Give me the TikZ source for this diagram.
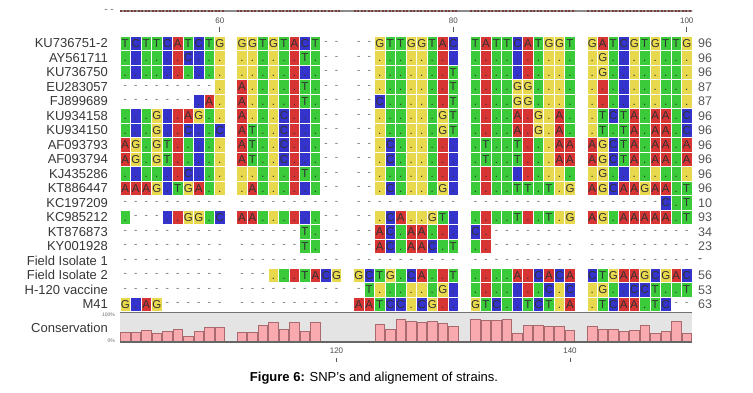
\documentclass[tikz,border=0pt]{standalone}
\usepackage{fontspec}
\setmainfont{Liberation Sans}

\definecolor{baseA}{RGB}{215,52,52}
\definecolor{baseC}{RGB}{52,52,205}
\definecolor{baseG}{RGB}{232,216,78}
\definecolor{baseT}{RGB}{58,202,58}
\definecolor{namegray}{RGB}{55,55,55}
\definecolor{scoregray}{RGB}{85,85,85}
\definecolor{panelgray}{RGB}{228,228,228}
\definecolor{barpink}{RGB}{248,170,174}
\definecolor{barline}{RGB}{170,105,110}
\definecolor{rulerred}{RGB}{125,60,60}

\tikzset{
  cell/.style={fill=#1, draw=white, line width=1pt, minimum width=10.5pt,
    minimum height=14.5pt, inner sep=0pt, text height=8.2pt, text depth=0pt,
    font=\fontsize{11.5}{11.5}\selectfont, text=black!80},
  gapmark/.style={inner sep=0pt, text=black!60, font=\fontsize{10}{10}\selectfont},
  seqname/.style={anchor=east, inner sep=0pt, text=namegray, font=\fontsize{13}{14}\selectfont},
  seqscore/.style={anchor=west, inner sep=0pt, text=scoregray, font=\fontsize{12.5}{14}\selectfont},
  rulerlabel/.style={inner sep=0pt, text=black!70, font=\fontsize{8}{8}\selectfont},
  tick/.style={draw=black!65, line width=0.8pt},
  consbar/.style={fill=barpink, draw=barline, line width=0.8pt},
}

% one alignment cell: upper case = base shown, lower case = same as first row
\newcount\seqcolnum
\newcommand\basebox[2]{\node[cell=#1] (s\rowid-\colid) at (\cx,\cy) {#2};}
\newcommand\gapcell{\node[gapmark] (s\rowid-\colid) at (\cx,\cy) {-};}
\makeatletter
\@namedef{cellA}{\basebox{baseA}{A}}
\@namedef{cellC}{\basebox{baseC}{C}}
\@namedef{cellG}{\basebox{baseG}{G}}
\@namedef{cellT}{\basebox{baseT}{T}}
\@namedef{cella}{\basebox{baseA}{.}}
\@namedef{cellc}{\basebox{baseC}{.}}
\@namedef{cellg}{\basebox{baseG}{.}}
\@namedef{cellt}{\basebox{baseT}{.}}
\@namedef{cell-}{\gapcell}
\newcommand\seqrow[4]{%
  \def\rowid{#1}%
  \pgfmathsetmacro\cy{43.3+(#1-1)*14.5}%
  \node[seqname] (name#1) at (108,\cy) {#2};
  \node[seqscore] (score#1) at (698,\cy) {#3};
  \seqcolnum=0
  \@tfor\base:=#4\do{%
    \edef\colid{\the\seqcolnum}%
    \pgfmathtruncatemacro\blk{\colid/10}%
    \pgfmathsetmacro\cx{125.25+\blk*116.75+(\colid-10*\blk)*10.5}%
    \csname cell\base\endcsname
    \advance\seqcolnum by 1\relax}}
\makeatother

\begin{document}
\begin{tikzpicture}[x=1pt, y=-1pt]
\useasboundingbox (0,0) rectangle (753,392);

% ruler
\node[gapmark] (rulerleft) at (109,10.5) {- -};
\draw[black!45, line width=2.5pt] (120,11) -- (692,11);
\foreach \b in {0,...,4}
  \draw[rulerred, line width=2.5pt, dash pattern=on 2.2pt off 1.3pt]
    (120+\b*116.75,11) -- (225+\b*116.75,11);
\node[rulerlabel] (top60) at (219.75,20.5) {60};
\node[rulerlabel] (top80) at (453.25,20.5) {80};
\node[rulerlabel] (top100) at (686.75,20.5) {100};
\foreach \t in {top60,top80,top100}
  \draw[tick] ([yshift=-3pt]\t.south) -- ++(0,5.5);

% sequences
\seqrow{1}{KU736751-2}{96}{TCTTCATCTGGGTGTACT----GTTGGTACTATTCATGGTGATCGTGTTG}
\seqrow{2}{AY561711}{96}{tcttcaCctgggtgtaTt----gttggtactattcatggtgGtcgtgttg}
\seqrow{3}{KU736750}{96}{tcttcatctgggtgtact----gttggtaTtattcatggtgGtcgtgttg}
\seqrow{4}{EU283057}{87}{---------gAgtgtaTt----gttggtaTtattGGtggtgatcgtgttg}
\seqrow{5}{FJ899689}{87}{-------cAgAgtgtaTt----CttggtaTtattGGtggtgatcgtgttg}
\seqrow{6}{KU934158}{96}{tctGcaAGtgAgtgCact----gttggtGTtattAaGgAtgTCTAtAAtC}
\seqrow{7}{KU934150}{96}{tctGcaCctCATtgCact----gttggtGTtattAaGgAtgTtTAtAAtC}
\seqrow{8}{AF093793}{96}{AGtGTatctgATtgCact----gCtggtactTttTatgAAAGCTAtAAtA}
\seqrow{9}{AF093794}{96}{AGtGTatctgATtgCact----gCtggtactTttTatgAAAGCTAtAAtA}
\seqrow{10}{KJ435286}{96}{tcttcaCctgggtgtaTt----gttggtactattcatggtgGtcgtgttg}
\seqrow{11}{KT886447}{96}{AAAGcTGAtggAtgtact----gCtggtGctattTTtTgGAGCAAGAAtT}
\seqrow{12}{KC197209}{10}{-----------------------------------------------CtT}
\seqrow{13}{KC985212}{93}{t---caGGtCAAtgtact----gCAggGTctattTatTgGAGtAAAAAtT}
\seqrow{14}{KT876873}{34}{----------------Tt----ACtAAtacCa------------------}
\seqrow{15}{KY001928}{23}{----------------Tt----ACtAACtTta------------------}
\seqrow{16}{Field Isolate 1}{-}{--------------------------------------------------}
\seqrow{17}{Field Isolate 2}{56}{-------------gtaTACGGCTGtCAtaTtattAaCACACTGAAGCGAC}
\seqrow{18}{H-120 vaccine}{53}{---------------------TgttggtGctattcatCgCgGtcCCTttT}
\seqrow{19}{M41}{63}{GcAG----------------AATCCgCGacGTCtcTCTgAgTCAAtTC--}

% conservation
\fill[panelgray] (120,313) rectangle (692,342);
\foreach \h [count=\i from 0] in {.34,.34,.40,.31,.38,.43,.20,.38,.49,.49,
    .34,.34,.57,.66,.43,.66,.38,.69,0,0,
    0,0,.60,.45,.79,.71,.68,.71,.63,.54,
    .79,.74,.74,.79,.31,.56,.56,.54,.54,.40,
    .54,.43,.45,.37,.40,.56,.31,.37,.71,.31}{
  \pgfmathtruncatemacro\blk{\i/10}
  \pgfmathsetmacro\bx{120.5+\blk*116.75+(\i-10*\blk)*10.5}
  \ifdim\h pt>0pt \draw[consbar] (\bx,342) rectangle ++(9.5,-\h*29); \fi
}
\draw[black!55, line width=1.5pt] (120,312.5) -- (692,312.5);
\draw[black!60, line width=1.2pt] (120,342) -- (692,342);
\node[seqname] (conslabel) at (108,327.5) {Conservation};
\node[anchor=east, inner sep=0pt, text=black!60, font=\fontsize{5}{5}\selectfont] (cons100) at (115,315) {100\%};
\node[anchor=east, inner sep=0pt, text=black!60, font=\fontsize{5}{5}\selectfont] (cons0) at (115,340.5) {0\%};

% lower ruler
\node[rulerlabel] (bot120) at (336.5,351) {120};
\node[rulerlabel] (bot140) at (570,351) {140};
\foreach \t in {bot120,bot140}
  \draw[tick] ([yshift=-3.5pt]\t.south) -- ++(0,4.5);

% caption
\node[inner sep=0pt, font=\fontsize{13}{15}\selectfont] (caption) at (374,378)
  {\textbf{Figure 6:} SNP’s and alignement of strains.};
\end{tikzpicture}
\end{document}
